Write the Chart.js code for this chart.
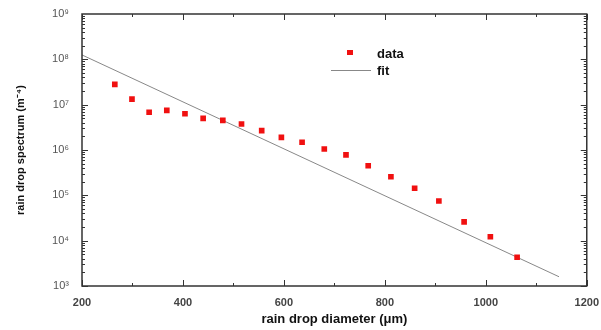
<!DOCTYPE html>
<html>
<head>
<meta charset="utf-8">
<script src="https://cdn.jsdelivr.net/npm/chart.js@4/dist/chart.umd.min.js"></script>
<style>
    html, body { margin: 0; padding: 0; background: #fff; }
    #box { width: 601px; height: 330px; }
</style>
</head>
<body>
<div id="box"><canvas id="myChart"></canvas></div>
<script>
// measured drop spectrum (diameter in um, spectrum in m^-4)
var diameters = [265, 299, 333, 368, 404, 440, 479, 516, 556, 595, 636, 680, 723, 767, 812, 859, 907, 957, 1009, 1062];
var spectrum = [2.8e7, 1.33e7, 6.8e6, 7.5e6, 6.3e6, 5.0e6, 4.5e6, 3.75e6, 2.67e6, 1.9e6, 1.48e6, 1.05e6, 7.8e5, 4.5e5, 2.57e5, 1.43e5, 7.5e4, 2.6e4, 1.22e4, 4.3e3];

// fit line end points
var fitX = [200, 1145];
var fitY = [1.25e8, 1.6e3];

var xTicks = [200, 400, 600, 800, 1000, 1200];
var supers = { '3': '³', '4': '⁴', '5': '⁵', '6': '⁶', '7': '⁷', '8': '⁸', '9': '⁹' };

function pairs(xs, ys) {
    return xs.map(function (x, i) { return { x: x, y: ys[i] }; });
}

// frame + inward ticks on all four sides
var framePlugin = {
    id: 'frame',
    afterDraw: function (chart) {
        var ctx = chart.ctx;
        var a = chart.chartArea;
        var xs = chart.scales.x;
        var ys = chart.scales.y;
        ctx.save();
        ctx.strokeStyle = '#333';
        ctx.lineWidth = 1.5;
        ctx.strokeRect(a.left, a.top, a.right - a.left, a.bottom - a.top);
        ctx.lineWidth = 1;
        for (var v = 200; v <= 1200; v += 100) {
            var px = Math.round(xs.getPixelForValue(v)) + 0.5;
            var len = (v % 200 == 0) ? 6 : 3;
            ctx.beginPath();
            ctx.moveTo(px, a.bottom); ctx.lineTo(px, a.bottom - len);
            ctx.moveTo(px, a.top); ctx.lineTo(px, a.top + len);
            ctx.stroke();
        }
        for (var e = 3; e < 9; e++) {
            for (var m = 1; m < 10; m++) {
                var py = Math.round(ys.getPixelForValue(m * Math.pow(10, e))) + 0.5;
                var l = (m == 1) ? 6 : 3;
                ctx.beginPath();
                ctx.moveTo(a.left, py); ctx.lineTo(a.left + l, py);
                ctx.moveTo(a.right, py); ctx.lineTo(a.right - l, py);
                ctx.stroke();
            }
        }
        ctx.restore();
    }
};

// legend drawn inside the plot
var legendPlugin = {
    id: 'innerLegend',
    afterDraw: function (chart) {
        var ctx = chart.ctx;
        ctx.save();
        ctx.fillStyle = '#f01010';
        ctx.fillRect(347, 50, 6, 5);
        ctx.strokeStyle = '#888';
        ctx.lineWidth = 1;
        ctx.beginPath();
        ctx.moveTo(331, 70.5); ctx.lineTo(371, 70.5);
        ctx.stroke();
        ctx.fillStyle = '#111';
        ctx.font = 'bold 13px "Liberation Sans", Arial, sans-serif';
        ctx.textBaseline = 'middle';
        ctx.fillText('data', 377, 54);
        ctx.fillText('fit', 377, 71);
        ctx.restore();
    }
};

const ctx = document.getElementById('myChart').getContext('2d');
const myChart = new Chart(ctx, {
    type: 'scatter',
    data: {
        datasets: [
            {
                label: 'data',
                data: pairs(diameters, spectrum),
                pointStyle: 'rect',
                pointRadius: 4,
                backgroundColor: '#f01010',
                borderColor: '#f01010',
                borderWidth: 0,
            },
            {
                label: 'fit',
                data: pairs(fitX, fitY),
                showLine: true,
                pointRadius: 0,
                borderColor: '#888888',
                borderWidth: 1,
            }
        ]
    },
    options: {
        responsive: true,
        maintainAspectRatio: false,
        animation: false,
        layout: {
            padding: { left: 0, top: 14, right: 14, bottom: 0 }
        },
        plugins: {
            legend: { display: false },
            tooltip: { enabled: false }
        },
        scales: {
            x: {
                type: 'linear',
                min: 200,
                max: 1200,
                afterBuildTicks: function (scale) {
                    scale.ticks = xTicks.map(function (v) { return { value: v }; });
                },
                afterFit: function (scale) { scale.height = 44; },
                border: { display: false },
                grid: { display: false },
                ticks: {
                    color: '#444',
                    padding: 2,
                    maxRotation: 0,
                    font: { size: 11, weight: 'bold', family: '"Liberation Sans", Arial, sans-serif' },
                    callback: function (value) { return String(value); }
                },
                title: {
                    display: true,
                    text: 'rain drop diameter (\u03bcm)',
                    color: '#111',
                    padding: { top: 4, bottom: 3 },
                    font: { size: 13, weight: 'bold', family: '"Liberation Sans", Arial, sans-serif' }
                }
            },
            y: {
                type: 'logarithmic',
                min: 1e3,
                max: 1e9,
                afterFit: function (scale) { scale.width = 82; },
                border: { display: false },
                grid: { display: false },
                ticks: {
                    color: '#555',
                    padding: 5,
                    autoSkip: false,
                    font: { size: 11, family: '"Liberation Sans", Arial, sans-serif' },
                    callback: function (value) {
                        var e = Math.log10(value);
                        if (Math.abs(e - Math.round(e)) < 1e-9) {
                            return '10' + supers[String(Math.round(e))];
                        }
                        return '';
                    }
                },
                title: {
                    display: true,
                    text: 'rain drop spectrum (m\u207b\u2074)',
                    color: '#111',
                    padding: { top: 14, bottom: 0 },
                    font: { size: 11, weight: 'bold', family: '"Liberation Sans", Arial, sans-serif' }
                }
            }
        }
    },
    plugins: [framePlugin, legendPlugin]
});
</script>
</body>
</html>
